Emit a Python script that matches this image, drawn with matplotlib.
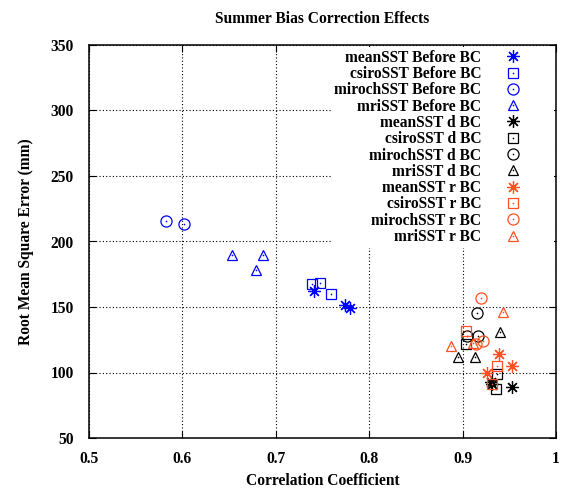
import matplotlib
matplotlib.use("Agg")
import matplotlib.pyplot as plt
from matplotlib.legend_handler import HandlerTuple

plt.rcParams['font.family'] = ['Liberation Serif', 'DejaVu Serif']
plt.rcParams['font.weight'] = 'bold'

# correlation coefficient / RMSE values
before_mean_x = [0.741, 0.774, 0.779]
before_mean_y = [162, 151.5, 149.5]
before_csiro_x = [0.739, 0.747, 0.759]
before_csiro_y = [167.5, 168.5, 160]
before_miroch_x = [0.582, 0.602]
before_miroch_y = [216, 213]
before_mri_x = [0.653, 0.686, 0.679]
before_mri_y = [190, 190, 178.5]

d_mean_x = [0.930, 0.932, 0.953]
d_mean_y = [93, 91, 89]
d_csiro_x = [0.904, 0.937, 0.936]
d_csiro_y = [122, 99, 87.5]
d_miroch_x = [0.915, 0.905, 0.917]
d_miroch_y = [145.5, 127.5, 128]
d_mri_x = [0.940, 0.895, 0.913]
d_mri_y = [131, 112, 112]

r_mean_x = [0.939, 0.953, 0.926]
r_mean_y = [114, 105, 100]
r_csiro_x = [0.904, 0.937, 0.932]
r_csiro_y = [132, 105, 91.5]
r_miroch_x = [0.920, 0.914, 0.922]
r_miroch_y = [156.5, 121.5, 124]
r_mri_x = [0.943, 0.911, 0.888]
r_mri_y = [146, 122.5, 120]

xticks = [0.5, 0.6, 0.7, 0.8, 0.9, 1.0]
xtick_labels = ["0.5", "0.6", "0.7", "0.8", "0.9", "1"]
yticks = [50, 100, 150, 200, 250, 300, 350]

series = [
    ("meanSST Before BC", before_mean_x, before_mean_y, "#0000ff", "ast"),
    ("csiroSST Before BC", before_csiro_x, before_csiro_y, "#0000ff", "s"),
    ("mirochSST Before BC", before_miroch_x, before_miroch_y, "#0000ff", "o"),
    ("mriSST Before BC", before_mri_x, before_mri_y, "#0000ff", "^"),
    ("meanSST d BC", d_mean_x, d_mean_y, "#000000", "ast"),
    ("csiroSST d BC", d_csiro_x, d_csiro_y, "#000000", "s"),
    ("mirochSST d BC", d_miroch_x, d_miroch_y, "#000000", "o"),
    ("mriSST d BC", d_mri_x, d_mri_y, "#000000", "^"),
    ("meanSST r BC", r_mean_x, r_mean_y, "#ff5020", "ast"),
    ("csiroSST r BC", r_csiro_x, r_csiro_y, "#ff5020", "s"),
    ("mirochSST r BC", r_miroch_x, r_miroch_y, "#ff5020", "o"),
    ("mriSST r BC", r_mri_x, r_mri_y, "#ff5020", "^"),
]

fs = 11.2

fig = plt.figure(figsize=(5.66, 4.9), dpi=100)
ax = fig.add_axes([89/566, 52/490, 467/566, 393/490])

handles = []
labels = []
for name, xs, ys, col, mk in series:
    if mk == "ast":
        m, ms = (8, 2, 0), 9
    elif mk == "s":
        m, ms = "s", 7.3
    elif mk == "o":
        m, ms = "o", 8
    else:
        m, ms = "^", 7.5
    h1, = ax.plot(xs, ys, linestyle="none", marker=m, markersize=ms,
                  markerfacecolor="none", markeredgecolor=col, markeredgewidth=0.9)
    if mk != "ast":
        h2, = ax.plot(xs, ys, linestyle="none", marker="o", markersize=1.2,
                      color=col, markeredgewidth=0)
        handles.append((h1, h2))
    else:
        handles.append(h1)
    labels.append(name)

ax.set_xlim(0.5, 1.0)
ax.set_ylim(50, 350)
ax.set_xticks(xticks)
ax.set_xticklabels(xtick_labels)
ax.set_yticks(yticks)

ax.grid(True, color="black", linestyle=(0, (1, 2)), linewidth=0.8)
ax.tick_params(direction="in", length=5, width=0.8, top=True, right=True,
               labelsize=fs)
ax.tick_params(axis="y", pad=11)
ax.tick_params(axis="x", pad=9)
for sp in ax.spines.values():
    sp.set_linewidth(1.1)

ax.set_title("Summer Bias Correction Effects", fontsize=fs, fontweight="bold", pad=16)
ax.set_xlabel("Correlation Coefficient", fontsize=fs, fontweight="bold", labelpad=5)
ax.set_ylabel("Root Mean Square Error (mm)", fontsize=fs, fontweight="bold", labelpad=12)

leg = ax.legend(handles, labels, loc="upper right", markerfirst=False,
                handler_map={tuple: HandlerTuple(ndivide=1, pad=0)},
                fontsize=fs, frameon=True, fancybox=False, framealpha=1,
                facecolor="white", edgecolor="none", borderaxespad=0.1,
                borderpad=0.2, labelspacing=0.02, handlelength=4.9,
                handletextpad=-0.4)
leg.get_frame().set_linewidth(0)

fig.savefig("out.png", dpi=100)
